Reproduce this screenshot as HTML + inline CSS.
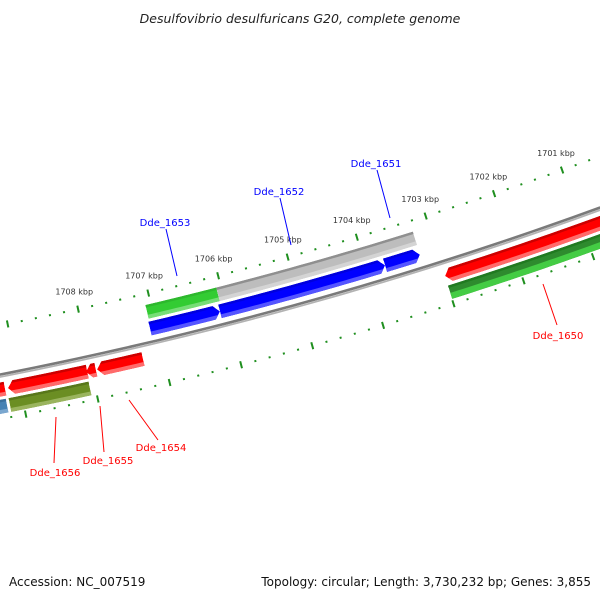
<!DOCTYPE html>
<html><head><meta charset="utf-8"><style>
html,body{margin:0;padding:0;background:#fff;}
svg{display:block;font-family:"DejaVu Sans","Liberation Sans",sans-serif;}
</style></head><body>
<svg id="map" width="600" height="600" viewBox="0 0 600 600" xmlns="http://www.w3.org/2000/svg">
<rect width="600" height="600" fill="#fff"/>
<text x="300" y="23" text-anchor="middle" font-size="12.5" font-style="italic" fill="#222">Desulfovibrio desulfuricans G20, complete genome</text>
<g id="rings"></g>
<g id="features"></g>
<g id="labels"></g>
<text x="9" y="586" font-size="12" fill="#111">Accession: NC_007519</text>
<text x="591" y="586" text-anchor="end" font-size="12" fill="#111">Topology: circular; Length: 3,730,232 bp; Genes: 3,855</text>
</svg>
<script>
// gene data (kbp)
var geneNames  = ["g-green","g-gray","Dde_1653","Dde_1652","Dde_1651","Dde_1650","Dde_1654","Dde_1655","Dde_1656","g-red-edge","g-darkgreen","g-olive","g-steel"];
var geneStart  = [1707.077,1706.066,1707.090,1706.098,1703.738,1702.995,1707.924,1708.079,1709.168,1709.209,1702.997,1709.186,1709.225];
var geneEnd    = [1706.066,1703.235,1706.098,1703.738,1703.236,1700.000,1707.279,1707.940,1708.060,1710.000,1700.000,1708.073,1710.000];
var geneSlot   = [0,0,1,1,1,2,2,2,2,2,3,3,3];
var geneArrow  = ["none","none","right","right","right","left","left","left","left","none","none","none","none"];
var geneColor  = ["green","gray","blue","blue","blue","red","red","red","red","red","dkgreen","olive","steel"];
var tickMajorKbp = [1701,1702,1703,1704,1705,1706,1707,1708];
var tickLabels   = ["1701 kbp","1702 kbp","1703 kbp","1704 kbp","1705 kbp","1706 kbp","1707 kbp","1708 kbp"];
var tickFrom = 1699.6, tickTo = 1710.0, tickStep = 0.2;

var CX=-769, CY=-3550, RB=4000, RT_OUT=3951, RT_IN=4043;
var slotR=[[3962,3976],[3979,3993],[4007,4021],[4024,4038]];
var palette={
 green:["#2db82d","#33cc33","#77dd77"], gray:["#8f8f8f","#bdbdbd","#d4d4d4"],
 blue:["#0000dd","#0000ff","#5555ff"], red:["#cc0000","#ff0000","#ff6a6a"],
 dkgreen:["#217a21","#2e8b2e","#44cc44"], olive:["#58771a","#6b8e23","#9ab45e"],
 steel:["#3a6f9c","#4682b4","#7aa7cf"]};
var NS="http://www.w3.org/2000/svg";
function th(k){return 77.62+(k-1708)*1.044;}
function pt(t,r){var a=t*Math.PI/180;return [CX+r*Math.cos(a),CY+r*Math.sin(a)];}
function arcPts(t0,t1,r,n){var p=[];for(var i=0;i<=n;i++){p.push(pt(t0+(t1-t0)*i/n,r));}return p;}
function ps(p){return p.map(function(q){return q[0].toFixed(2)+","+q[1].toFixed(2);}).join(" ");}
function arcPath(t0,t1,r){var p=arcPts(t0,t1,r,60);return "M"+ps(p).split(" ").join(" L");}
function mk(tag,attrs,parent){var e=document.createElementNS(NS,tag);for(var k in attrs)e.setAttribute(k,attrs[k]);parent.appendChild(e);return e;}

var rings=document.getElementById('rings');
var b1=mk('path',{d:arcPath(80,68,RB-0.8),fill:'none',stroke:'#7a7a7a','stroke-width':2.6},rings);


var b2=mk('path',{d:arcPath(80,68,RB+1.6),fill:'none',stroke:'#b3b3b3','stroke-width':1.8},rings);



// ticks
var nT=Math.round((tickTo-tickFrom)/tickStep);
for(var i=0;i<=nT;i++){
  var k=tickFrom+i*tickStep; var t=th(k);
  var major=Math.abs(k-Math.round(k))<1e-6;
  [RT_OUT,RT_IN].forEach(function(r,ri){
    var h=major?3.6:1;
    var a=pt(t,r-h), b=pt(t,r+h);
    var ln=mk('line',{x1:a[0],y1:a[1],x2:b[0],y2:b[1],stroke:'#1f8f1f','stroke-width':2},rings);
    
    
  });
}
tickMajorKbp.forEach(function(k,i){
  var p=pt(th(k),RT_OUT-18);
  var tx=mk('text',{x:p[0],y:p[1]+3,'text-anchor':'middle','font-size':8,fill:'#333'},rings);
  tx.textContent=tickLabels[i];
  
  
});

// features
var feats=document.getElementById('features');
var defs=mk('defs',{},feats);
for(var g=0;g<geneStart.length;g++){
  var tL=th(geneStart[g]), tR=th(geneEnd[g]);
  var r0=slotR[geneSlot[g]][0], r1=slotR[geneSlot[g]][1], rm=(r0+r1)/2;
  var ah=6/rm*180/Math.PI;
  var poly;
  if(geneArrow[g]=="right"){
    poly=arcPts(tL,tR+ah,r0,30).concat([pt(tR,rm)]).concat(arcPts(tR+ah,tL,r1,30));
  } else if(geneArrow[g]=="left"){
    poly=[pt(tL,rm)].concat(arcPts(tL-ah,tR,r0,30)).concat(arcPts(tR,tL-ah,r1,30));
  } else {
    poly=arcPts(tL,tR,r0,30).concat(arcPts(tR,tL,r1,30));
  }
  var cp=mk('clipPath',{id:'clip'+g},defs);
  mk('polygon',{points:ps(poly)},cp);
  var grp=mk('g',{'clip-path':'url(#clip'+g+')'},feats);
  
  
  var pal=palette[geneColor[g]];
  mk('polygon',{points:ps(poly),fill:pal[1]},grp);
  var w=r1-r0;
  mk('path',{d:arcPath(tL+1,tR-1,r0+1.2),fill:'none',stroke:pal[0],'stroke-width':2.6},grp);
  var lw=geneColor[g]=="dkgreen"?w*0.45:w*0.28;
  mk('path',{d:arcPath(tL+1,tR-1,r1-lw/2),fill:'none',stroke:pal[2],'stroke-width':lw},grp);
}

// labels
var labels=document.getElementById('labels');
var labText=["Dde_1653","Dde_1652","Dde_1651","Dde_1650","Dde_1656","Dde_1655","Dde_1654"];
var labCol=["#0000ff","#0000ff","#0000ff","#ff0000","#ff0000","#ff0000","#ff0000"];
var labPos=[[165,226],[279,195],[376,167],[558,339],[55,476],[108,464],[161,451]];
var labLine=[[166,229,177,276],[280,198,291,245],[377,170,390,218],[543,284,557,325],[56,417,54,463],[100,406,104,452],[129,400,158,440]];
for(var i=0;i<labText.length;i++){
  var L=labLine[i];
  var ln=mk('line',{x1:L[0],y1:L[1],x2:L[2],y2:L[3],stroke:labCol[i],'stroke-width':1},labels);
  
  
  var tx=mk('text',{x:labPos[i][0],y:labPos[i][1],'text-anchor':'middle','font-size':10,fill:labCol[i]},labels);
  tx.textContent=labText[i];
  
  
}
</script>
</body></html>
